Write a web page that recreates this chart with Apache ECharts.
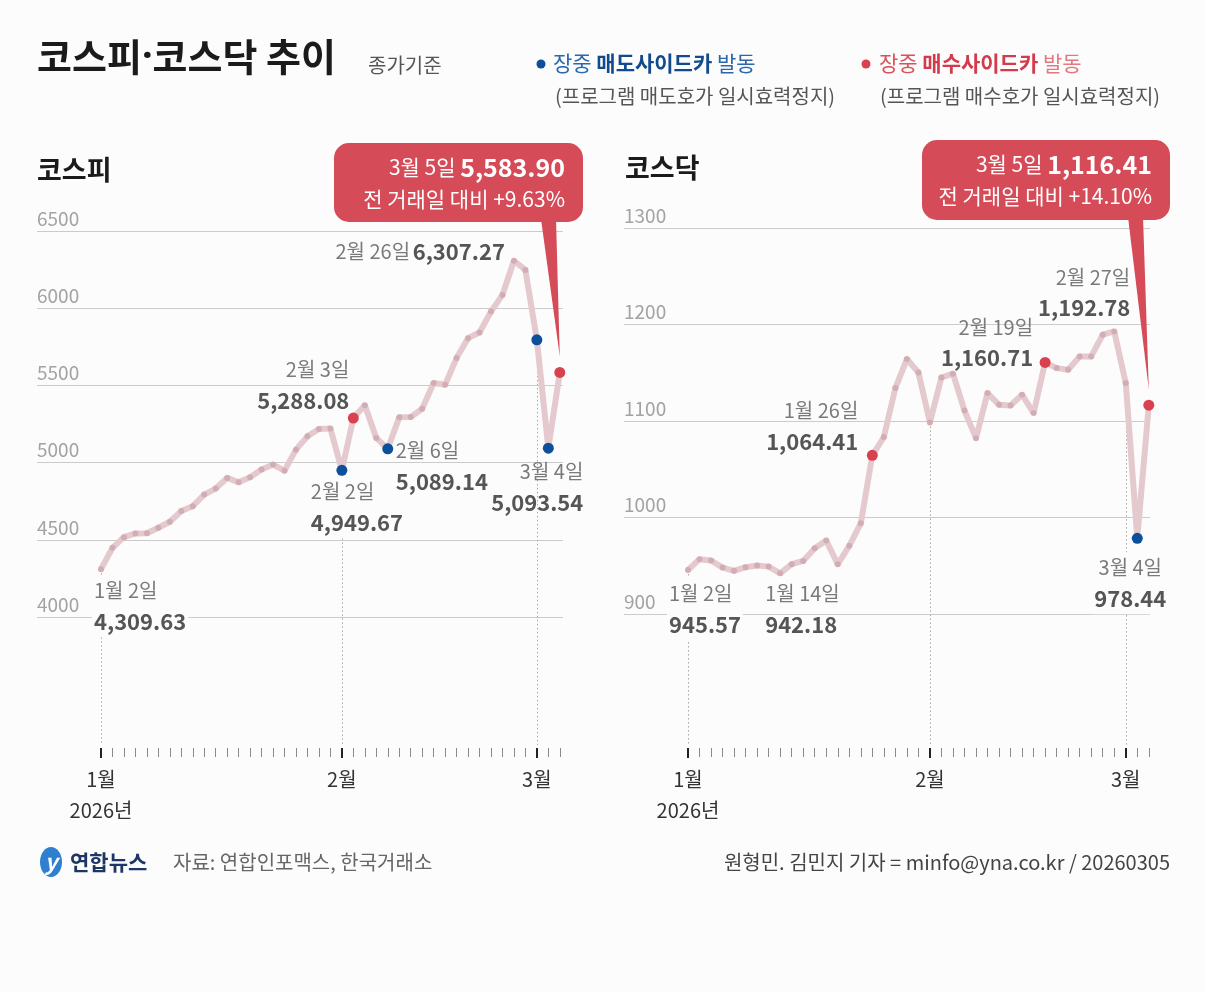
<!DOCTYPE html>
<html><head><meta charset="utf-8">
<script src="https://cdn.jsdelivr.net/npm/echarts@6/dist/echarts.min.js"></script>
<style>html,body{margin:0;padding:0;background:#fcfcfc}#c{width:1205px;height:992px}</style>
</head><body><div id="c"></div>
<script>
// ---------- data ----------
const dates = ['1월 2일','1월 5일','1월 6일','1월 7일','1월 8일','1월 9일','1월 12일','1월 13일','1월 14일','1월 15일','1월 16일','1월 19일','1월 20일','1월 21일','1월 22일','1월 23일','1월 26일','1월 27일','1월 28일','1월 29일','1월 30일','2월 2일','2월 3일','2월 4일','2월 5일','2월 6일','2월 9일','2월 10일','2월 11일','2월 12일','2월 13일','2월 19일','2월 20일','2월 23일','2월 24일','2월 25일','2월 26일','2월 27일','3월 3일','3월 4일','3월 5일'];
const kospi = [4309.63,4448,4517,4541,4542,4578,4617,4686,4718,4793,4832,4901,4873,4905,4955,4987,4948,5084,5170,5218,5221,4949.67,5288.08,5371,5160,5089.14,5293,5295,5349,5515,5504,5677,5806,5843,5978,6086,6307.27,6248,5795,5093.54,5583.90];
const kosdaq = [945.57,956.8,955.4,948.1,944.7,948.5,950.2,949.1,942.18,951.6,955.0,968.2,976.1,951.6,970.6,994.1,1064.41,1083.3,1134.1,1164.2,1150.3,1098.5,1145.1,1149.0,1110.9,1082.2,1128.9,1116.8,1116.1,1127.2,1108.2,1160.71,1154.8,1153.1,1166.9,1166.9,1189.4,1192.78,1139.3,978.44,1116.41];
const kospiTicks = [4000,4500,5000,5500,6000,6500];
const kosdaqTicks = [900,1000,1100,1200,1300];
const monthStarts = [0,21,38];
const kospiSell = [21,25,38,39];   // 매도사이드카 (blue)
const kospiBuy = [22,40];          // 매수사이드카 (red)
const kosdaqSell = [39];
const kosdaqBuy = [16,31,40];
const kospiLabeled = [0,21,22,25,36,39];
const kosdaqLabeled = [0,8,16,31,37,39];

// ---------- style ----------
const FONT = "'Noto Sans CJK KR','Noto Sans',sans-serif";
const BG = '#fcfcfc', BLUE = '#0d4f9a', RED = '#d8424f', CALL = '#d54b57';
const LINE = '#e4cace', DOT = '#d3adb4';
const KP = {gl:37, gw:526, top:231, gh:386, sl:101, sw:458.8, sh:514};
const KQ = {gl:624, gw:526, top:228, gh:386, sl:688, sw:460.8, sh:517};
// label placement (offset from point centre, alignment)
const kospiLabelPos = {
  0:{off:[-9,6],align:'left',va:'top',bg:true},
  21:{off:[-33,6],align:'left',va:'top',bg:true},
  22:{off:[-4,-64],align:'right',va:'top'},
  25:{off:[8,-14],align:'left',va:'top'},
  36:{off:[-9,-9],align:'right',va:'middle',one:true},
  39:{off:[35,8],align:'right',va:'top'}
};
const kosdaqLabelPos = {
  0:{off:[-21,8],align:'left',va:'top',bg:true},
  8:{off:[-15,5],align:'left',va:'top'},
  16:{off:[-14,-60],align:'right',va:'top'},
  31:{off:[-12,-51],align:'right',va:'top'},
  37:{off:[16,-70],align:'right',va:'top'},
  39:{off:[-7,14],align:'center',va:'top',bg:true}
};

const fmt = v => v.toLocaleString('en-US',{minimumFractionDigits:2, maximumFractionDigits:2});
const rich = {
  d:{fontFamily:FONT,fontSize:20,color:'#7a7a7a',lineHeight:31},
  v:{fontFamily:FONT,fontSize:22,fontWeight:'bold',color:'#555',lineHeight:31}
};

function buildData(vals, sell, buy, labeled, pos) {
  return vals.map((v,i) => {
    const item = {value: v};
    if (sell.includes(i)) { item.symbolSize = 11; item.itemStyle = {color: BLUE}; }
    if (buy.includes(i)) { item.symbolSize = 11; item.itemStyle = {color: RED}; }
    if (labeled.includes(i)) {
      const p = pos[i];
      item.label = {
        show:true, position:'inside', offset:p.off, align:p.align, verticalAlign:p.va,
        formatter: p.one ? `{d|${dates[i]}} {v|${fmt(v)}}` : `{d|${dates[i]}}\n{v|${fmt(v)}}`,
        rich, textBorderWidth:0,
        backgroundColor: p.bg ? BG : 'transparent', padding: p.bg ? [0,2] : 0
      };
    }
    return item;
  });
}

function seriesMin(ticks, L) {
  const mn = ticks[0], mx = ticks[ticks.length-1];
  return mx - (L.sh / L.gh) * (mx - mn);
}
const kpMin = seriesMin(kospiTicks, KP), kqMin = seriesMin(kosdaqTicks, KQ);

const isMonth = (i) => monthStarts.includes(i);
function monthLabel(val, i) {
  const m = val.split(' ')[0];
  return i === 0 ? m + '\n2026년' : m;
}

function xAxesFor(g) {
  return [
    {gridIndex:g, type:'value', min:0, max:1, show:false},
    {gridIndex:g+1, type:'category', position:'bottom', data:dates, boundaryGap:false, offset:3,
      axisLine:{show:false}, axisLabel:{show:false}, splitLine:{show:false},
      axisTick:{show:true, interval:0, length:9, lineStyle:{color:'#8a8a8a', width:1}}},
    {gridIndex:g+1, type:'category', position:'bottom', data:dates, boundaryGap:false, offset:3,
      axisLine:{show:false}, splitLine:{show:false},
      axisTick:{show:true, interval:(i)=>isMonth(i), length:10, lineStyle:{color:'#222', width:2}},
      axisLabel:{show:true, interval:(i)=>isMonth(i), formatter:monthLabel, margin:16,
        fontFamily:FONT, fontSize:20, color:'#333', lineHeight:31}}
  ];
}
function yAxesFor(g, ticks, mn) {
  return [
    {gridIndex:g, type:'value', min:ticks[0], max:ticks[ticks.length-1], interval:ticks[1]-ticks[0],
      axisLine:{show:false}, axisTick:{show:false},
      axisLabel:{inside:true, margin:0, verticalAlign:'bottom', padding:[0,0,3,0],
        formatter:(v)=>String(v), fontFamily:FONT, fontSize:19, color:'#a3a3a3'},
      splitLine:{show:true, lineStyle:{color:'#cbcbcb', width:1}}},
    {gridIndex:g+1, type:'value', min:mn, max:ticks[ticks.length-1], show:false, splitLine:{show:false}}
  ];
}

function lineSeries(vals, xi, yi, sell, buy, labeled, pos, mn) {
  return {
    type:'line', xAxisIndex:xi, yAxisIndex:yi, z:3,
    data: buildData(vals, sell, buy, labeled, pos),
    showAllSymbol:true, symbol:'circle', symbolSize:6,
    itemStyle:{color:DOT}, lineStyle:{color:LINE, width:6},
    emphasis:{disabled:true}, silent:true,
    markLine:{
      silent:true, symbol:['none','none'], label:{show:false}, z:1,
      lineStyle:{type:[1.5,2.5], color:'#a8a8a8', width:1},
      emphasis:{disabled:true},
      data: monthStarts.map(i => [{coord:[i, vals[i]]}, {coord:[i, mn]}])
    }
  };
}

const chart = echarts.init(document.getElementById('c'), null, {renderer:'canvas'});
const option = {
  animation:false,
  backgroundColor:BG,
  textStyle:{fontFamily:FONT},
  grid:[
    {left:KP.gl, top:KP.top, width:KP.gw, height:KP.gh},
    {left:KP.sl, top:KP.top, width:KP.sw, height:KP.sh},
    {left:KQ.gl, top:KQ.top, width:KQ.gw, height:KQ.gh},
    {left:KQ.sl, top:KQ.top, width:KQ.sw, height:KQ.sh}
  ],
  xAxis:[...xAxesFor(0), ...xAxesFor(2)],
  yAxis:[...yAxesFor(0, kospiTicks, kpMin), ...yAxesFor(2, kosdaqTicks, kqMin)],
  series:[
    lineSeries(kospi, 1, 1, kospiSell, kospiBuy, kospiLabeled, kospiLabelPos, kpMin),
    lineSeries(kosdaq, 4, 3, kosdaqSell, kosdaqBuy, kosdaqLabeled, kosdaqLabelPos, kqMin)
  ]
};
chart.setOption(option);

// ---------- annotations ----------
const last = dates.length - 1;
const tipK = chart.convertToPixel({seriesIndex:0}, [last, kospi[last]]);
const tipQ = chart.convertToPixel({seriesIndex:1}, [last, kosdaq[last]]);
const pct = (a,b) => '+' + ((a/b - 1)*100).toFixed(2) + '%';

function callout(box, tip, val, prev) {
  const [bx, by, bw, bh] = box;
  const right = bx + bw - 18;
  return [
    {type:'polygon', z:10, shape:{points:[[right-24, by+bh-3],[right-9, by+bh-3],[tip[0], tip[1]-16]]}, style:{fill:CALL}},
    {type:'rect', z:10, shape:{x:bx, y:by, width:bw, height:bh, r:15}, style:{fill:CALL}},
    {type:'text', z:11, style:{x:right, y:by+24, align:'right', verticalAlign:'middle',
      text:`{n|${dates[last]} }{b|${fmt(val)}}`,
      rich:{n:{fontFamily:FONT, fontSize:21, fill:'#fff'}, b:{fontFamily:FONT, fontSize:25, fontWeight:'bold', fill:'#fff'}}}},
    {type:'text', z:11, style:{x:right, y:by+56, align:'right', verticalAlign:'middle',
      text:`전 거래일 대비 ${pct(val, prev)}`, fontFamily:FONT, fontSize:21, fill:'#fff'}}
  ];
}

const txt = (x, y, text, size, fill, extra) => Object.assign({type:'text', z:5,
  style:Object.assign({x, y, text, fontFamily:FONT, fontSize:size, fill, verticalAlign:'middle'}, extra||{})});

const graphics = [
  {type:'text', z:5, style:{x:37, y:57, verticalAlign:'middle',
    text:'{a|코스피}{d|·}{a|코스닥 추이}',
    rich:{a:{fontFamily:FONT, fontSize:38, fontWeight:'bold', fill:'#1b1b1b'},
          d:{fontFamily:"'Noto Sans',sans-serif", fontSize:38, fontWeight:'bold', fill:'#1b1b1b'}}}},
  txt(368, 65, '종가기준', 20, '#555'),
  {type:'circle', shape:{cx:541, cy:64, r:4.5}, style:{fill:BLUE}},
  {type:'text', style:{x:553, y:63, verticalAlign:'middle',
    text:'{a|장중 }{b|매도사이드카}{a| 발동}',
    rich:{a:{fontFamily:FONT, fontSize:21, fill:'#2a68ad'}, b:{fontFamily:FONT, fontSize:21, fontWeight:'bold', fill:'#124b8c'}}}},
  txt(555, 96, '(프로그램 매도호가 일시효력정지)', 20, '#555'),
  {type:'circle', shape:{cx:866, cy:64, r:4.5}, style:{fill:RED}},
  {type:'text', style:{x:879, y:63, verticalAlign:'middle',
    text:'{a|장중 }{b|매수사이드카}{c| 발동}',
    rich:{a:{fontFamily:FONT, fontSize:21, fill:'#d9525b'}, b:{fontFamily:FONT, fontSize:21, fontWeight:'bold', fill:'#d33a4a'}, c:{fontFamily:FONT, fontSize:21, fill:'#e27880'}}}},
  txt(880, 96, '(프로그램 매수호가 일시효력정지)', 20, '#555'),
  txt(37, 170, '코스피', 27, '#1b1b1b', {fontWeight:'bold'}),
  txt(625, 168, '코스닥', 27, '#1b1b1b', {fontWeight:'bold'}),
  ...callout([334, 143, 249, 79], tipK, kospi[last], kospi[last-1]),
  ...callout([922, 140, 248, 80], tipQ, kosdaq[last], kosdaq[last-1]),
  // footer
  {type:'ellipse', shape:{cx:51, cy:862, rx:11, ry:15}, style:{fill:'#2f7fd1'}},
  txt(51, 862, 'y', 22, '#fff', {align:'center', fontWeight:'bold', fontStyle:'italic'}),
  txt(70, 862, '연합뉴스', 21, '#1c3766', {fontWeight:'bold'}),
  txt(173, 862, '자료: 연합인포맥스, 한국거래소', 20, '#666'),
  txt(1170, 862, '원형민. 김민지 기자 = minfo@yna.co.kr / 20260305', 20, '#444', {align:'right'})
];
chart.setOption({graphic: graphics});
</script>
</body></html>
